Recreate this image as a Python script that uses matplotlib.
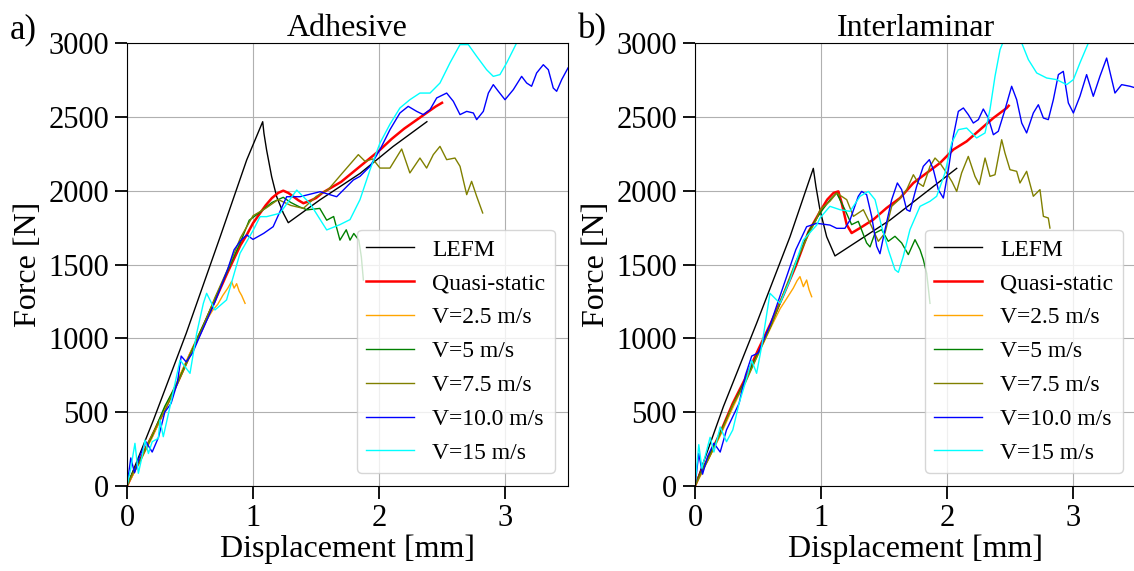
import matplotlib
matplotlib.use("Agg")
from matplotlib import pyplot as plt

plt.rcParams['font.family'] = ['Liberation Serif', 'DejaVu Serif']

# ---- a) Adhesive ----
lefm_a_x = [0, 0.21, 0.47, 0.74, 0.95, 1.077, 1.087, 1.108, 1.148, 1.188, 1.241, 1.28, 1.53, 1.85, 2.11, 2.38]
lefm_a_y = [0, 447, 1034, 1689, 2208, 2467, 2388, 2275, 2095, 1959, 1847, 1783, 1937, 2117, 2298, 2467]

qs_a_x = [0, 0.05, 0.1, 0.15, 0.2, 0.3, 0.4, 0.5, 0.6, 0.7, 0.8, 0.9, 0.95, 1.0, 1.05, 1.1, 1.15, 1.2,
          1.24, 1.28, 1.32, 1.36, 1.4, 1.45, 1.5, 1.55, 1.6, 1.65, 1.7, 1.8, 1.9, 2.0, 2.1, 2.2, 2.3,
          2.4, 2.45, 2.5]
qs_a_y = [0, 90, 170, 260, 340, 520, 700, 890, 1070, 1260, 1450, 1630, 1700, 1780, 1840, 1900, 1950, 1985,
          2000, 1985, 1960, 1935, 1915, 1930, 1950, 1985, 2010, 2035, 2060, 2130, 2200, 2270, 2350, 2420, 2480,
          2540, 2570, 2595]

v25_a_x = [0, 0.05, 0.1, 0.2, 0.3, 0.4, 0.5, 0.6, 0.68, 0.72, 0.76, 0.8, 0.83, 0.85, 0.87, 0.89, 0.91, 0.937]
v25_a_y = [0, 80, 160, 330, 520, 710, 900, 1080, 1190, 1230, 1290, 1340, 1385, 1340, 1370, 1320, 1290, 1237]

v5_a_x = [0, 0.05, 0.1, 0.2, 0.3, 0.4, 0.5, 0.6, 0.7, 0.8, 0.9, 0.97, 1.05, 1.15, 1.24, 1.3, 1.37, 1.43,
          1.53, 1.585, 1.64, 1.69, 1.74, 1.77, 1.8, 1.84, 1.86, 1.876]
v5_a_y = [0, 100, 170, 340, 540, 700, 890, 1080, 1270, 1460, 1650, 1800, 1850, 1920, 1955, 1920, 1890, 1870,
          1880, 1800, 1825, 1665, 1735, 1665, 1710, 1665, 1550, 1395]

v75_a_x = [0, 0.05, 0.1, 0.2, 0.3, 0.4, 0.5, 0.6, 0.7, 0.8, 0.9, 1.0, 1.1, 1.2, 1.3, 1.4, 1.5, 1.6, 1.7,
           1.836, 1.889, 1.95, 2.008, 2.087, 2.18, 2.245, 2.325, 2.378, 2.431, 2.484, 2.537, 2.603, 2.643,
           2.696, 2.735, 2.775, 2.823]
v75_a_y = [0, 90, 160, 350, 510, 690, 880, 1070, 1280, 1470, 1680, 1830, 1880, 1940, 1900, 1880, 1960, 2010,
           2110, 2244, 2199, 2215, 2153, 2153, 2282, 2120, 2221, 2153, 2244, 2300, 2210, 2221, 2165,
           1973, 2063, 1962, 1849]

v10_a_x = [0, 0.03, 0.06, 0.1, 0.15, 0.2, 0.25, 0.3, 0.35, 0.4, 0.43, 0.47, 0.52, 0.57, 0.7, 0.8, 0.85,
           0.9, 0.95, 1.0, 1.085, 1.16, 1.267, 1.373, 1.532, 1.664, 1.796, 1.849, 1.929, 2.008, 2.087, 2.166,
           2.232, 2.299, 2.352, 2.405, 2.458, 2.537, 2.59, 2.643, 2.696, 2.749, 2.775, 2.828, 2.868, 2.907,
           2.947, 3.0, 3.066, 3.132, 3.172, 3.211, 3.251, 3.304, 3.344, 3.383, 3.41, 3.45, 3.5]
v10_a_y = [0, 190, 90, 200, 300, 230, 330, 500, 560, 700, 880, 840, 900, 1000, 1250, 1470, 1600,
           1660, 1700, 1670, 1711, 1756, 1959, 1959, 1993, 1959, 2072, 2097, 2165, 2278, 2413, 2526,
           2571, 2537, 2515, 2549, 2628, 2661, 2605, 2515, 2537, 2526, 2481, 2537, 2661, 2718,
           2673, 2616, 2684, 2774, 2729, 2707, 2797, 2853, 2819, 2695, 2673, 2752, 2831]

v15_a_x = [0, 0.03, 0.063, 0.09, 0.12, 0.143, 0.17, 0.2, 0.249, 0.262, 0.288, 0.341, 0.421, 0.5, 0.553,
           0.606, 0.632, 0.698, 0.79, 0.897, 1.003, 1.056, 1.108, 1.214, 1.347, 1.452, 1.585, 1.69, 1.77,
           1.849, 1.929, 2.008, 2.087, 2.166, 2.245, 2.325, 2.405, 2.484, 2.563, 2.643, 2.709, 2.775, 2.854,
           2.907, 2.96, 3.013, 3.066, 3.092, 3.15]
v15_a_y = [0, 120, 289, 86, 200, 311, 220, 300, 323, 447, 334, 537, 853, 763, 1034,
           1237, 1305, 1192, 1260, 1576, 1734, 1824, 1824, 1847, 2004, 1914, 1734, 1770, 1804,
           1939, 2142, 2323, 2450, 2560, 2616, 2661, 2661, 2729, 2865, 2989, 2989, 2910, 2819,
           2774, 2786, 2865, 2955, 3000, 3150]

# ---- b) Interlaminar ----
lefm_b_x = [0, 0.225, 0.489, 0.754, 0.939, 0.96, 0.992, 1.045, 1.111, 1.548, 2.077]
lefm_b_y = [0, 537, 1102, 1688, 2151, 2027, 1869, 1688, 1558, 1801, 2151]

qs_b_x = [0, 0.05, 0.1, 0.2, 0.3, 0.4, 0.5, 0.6, 0.7, 0.8, 0.9, 1.0, 1.05, 1.1, 1.138, 1.164, 1.204, 1.243,
          1.31, 1.415, 1.521, 1.627, 1.733, 1.839, 1.944, 2.05, 2.156, 2.262, 2.368, 2.474, 2.49]
qs_b_y = [0, 100, 180, 360, 560, 730, 920, 1100, 1290, 1490, 1720, 1870, 1940, 1985, 1995, 1917, 1770, 1713,
          1747, 1804, 1883, 1950, 2052, 2120, 2187, 2278, 2334, 2413, 2492, 2560, 2575]

v25_b_x = [0, 0.05, 0.1, 0.2, 0.3, 0.4, 0.5, 0.6, 0.675, 0.728, 0.78, 0.81, 0.833, 0.86, 0.886, 0.905, 0.926]
v25_b_y = [0, 80, 170, 340, 530, 710, 890, 1070, 1200, 1270, 1340, 1390, 1418, 1350, 1395, 1330, 1282]

v5_b_x = [0, 0.05, 0.1, 0.2, 0.3, 0.4, 0.5, 0.6, 0.7, 0.8, 0.9, 0.97, 1.02, 1.071, 1.124, 1.19, 1.243,
          1.296, 1.362, 1.389, 1.429, 1.481, 1.534, 1.587, 1.64, 1.693, 1.746, 1.786, 1.812, 1.839, 1.865]
v5_b_y = [0, 100, 180, 360, 550, 720, 900, 1080, 1290, 1500, 1720, 1820, 1880, 1937, 1984, 1871, 1770,
          1792, 1646, 1619, 1713, 1736, 1657, 1691, 1646, 1567, 1668, 1600, 1533, 1440, 1237]

v75_b_x = [0, 0.05, 0.1, 0.2, 0.3, 0.4, 0.5, 0.6, 0.7, 0.8, 0.9, 0.96, 0.992, 1.071, 1.124, 1.204, 1.257,
           1.336, 1.40, 1.455, 1.508, 1.561, 1.62, 1.68, 1.733, 1.772, 1.812, 1.865, 1.905, 1.944, 1.997,
           2.04, 2.077, 2.116, 2.169, 2.222, 2.256, 2.302, 2.341, 2.381, 2.434, 2.46, 2.5, 2.553, 2.579,
           2.632, 2.685, 2.738, 2.765, 2.804, 2.817]
v75_b_y = [0, 90, 170, 350, 550, 700, 890, 1080, 1300, 1520, 1700, 1800, 1871, 1928, 1984, 1939, 1826,
           1871, 1760, 1657, 1713, 1894, 1940, 2007, 2108, 2052, 2029, 2165, 2221, 2187, 2120,
           2060, 1995, 2120, 2232, 2097, 2041, 2221, 2097, 2108, 2345, 2255, 2142, 2131, 2052,
           2131, 1962, 2007, 1826, 1815, 1747]

v10_b_x = [0, 0.03, 0.06, 0.1, 0.15, 0.2, 0.25, 0.3, 0.35, 0.4, 0.45, 0.5, 0.6, 0.7, 0.8, 0.886,
           0.966, 1.071, 1.124, 1.19, 1.23, 1.296, 1.323, 1.362, 1.402, 1.442, 1.468, 1.508, 1.561, 1.606,
           1.64, 1.68, 1.706, 1.759, 1.812, 1.86, 1.892, 1.931, 1.971, 2.011, 2.05, 2.09, 2.13, 2.169,
           2.209, 2.249, 2.288, 2.328, 2.368, 2.407, 2.46, 2.513, 2.553, 2.593, 2.632, 2.685, 2.725, 2.765,
           2.804, 2.844, 2.884, 2.923, 2.963, 3.003, 3.055, 3.108, 3.161, 3.214, 3.267, 3.333, 3.386, 3.452,
           3.52]
v10_b_y = [0, 220, 80, 200, 290, 230, 380, 470, 560, 750, 880, 900, 1100, 1350, 1600, 1756,
           1779, 1767, 1745, 1745, 1801, 1962, 1995, 1973, 1826, 1623, 1573, 1736, 1939, 2052,
           2007, 1871, 1860, 2029, 2165, 2210, 2142, 2007, 1950, 2142, 2368, 2537, 2560, 2515,
           2458, 2481, 2553, 2492, 2379, 2402, 2548, 2707, 2616, 2458, 2391, 2526, 2582, 2492,
           2481, 2616, 2786, 2808, 2594, 2526, 2639, 2786, 2639, 2775, 2898, 2661, 2718, 2707,
           2690]

v15_b_x = [0, 0.03, 0.055, 0.08, 0.12, 0.15, 0.2, 0.25, 0.3, 0.35, 0.4, 0.45, 0.489, 0.53, 0.595, 0.675,
           0.754, 0.86, 0.966, 0.992, 1.071, 1.151, 1.23, 1.31, 1.376, 1.429, 1.481, 1.534, 1.587, 1.614,
           1.653, 1.706, 1.786, 1.865, 1.918, 1.984, 2.037, 2.09, 2.156, 2.235, 2.302, 2.341, 2.381, 2.421,
           2.447, 2.52, 2.593, 2.646, 2.712, 2.791, 2.87, 2.95, 3.003, 3.055, 3.122, 3.2]
v15_b_y = [0, 280, 120, 200, 330, 230, 400, 300, 380, 560, 700, 850, 763, 950, 1305, 1237,
           1395, 1666, 1767, 1815, 1894, 1871, 1860, 1962, 1995, 1939, 1758, 1600, 1465, 1447,
           1555, 1736, 1894, 1928, 1962, 2120, 2323, 2413, 2424, 2357, 2391, 2549, 2774, 2955,
           3010, 3080, 3000, 2887, 2797, 2763, 2752, 2718, 2752, 2865, 3000, 3150]

labels = ["LEFM", "Quasi-static", "V=2.5 m/s", "V=5 m/s", "V=7.5 m/s", "V=10.0 m/s", "V=15 m/s"]
colors = ["black", "red", "orange", "green", "olive", "blue", "cyan"]

panels = [
    ("Adhesive", "a)", [(lefm_a_x, lefm_a_y), (qs_a_x, qs_a_y), (v25_a_x, v25_a_y), (v5_a_x, v5_a_y),
                        (v75_a_x, v75_a_y), (v10_a_x, v10_a_y), (v15_a_x, v15_a_y)]),
    ("Interlaminar", "b)", [(lefm_b_x, lefm_b_y), (qs_b_x, qs_b_y), (v25_b_x, v25_b_y), (v5_b_x, v5_b_y),
                            (v75_b_x, v75_b_y), (v10_b_x, v10_b_y), (v15_b_x, v15_b_y)]),
]

fig = plt.figure(figsize=(11.34, 5.71), dpi=100)
W, H = 1134, 571
lefts = [127, 695]

for (title, tag, series), left in zip(panels, lefts):
    ax = fig.add_axes([left / W, 85 / H, 441 / W, 443 / H])
    for (x, y), lab, col in zip(series, labels, colors):
        lw = 1.8 if col == "red" else 1.0
        ax.plot(x, y, color=col, lw=lw, label=lab)
    ax.set_xlim(0, 3.5)
    ax.set_ylim(0, 3000)
    ax.set_xticks([0, 1, 2, 3])
    ax.set_yticks(range(0, 3001, 500))
    ax.grid(True, color="#b0b0b0", lw=0.8)
    ax.tick_params(labelsize=22, length=9, width=1.3, pad=4)
    ax.set_xlabel("Displacement [mm]", fontsize=23, labelpad=1)
    ax.set_ylabel("Force [N]", fontsize=23, labelpad=4)
    ax.set_title(title, fontsize=23, pad=5)
    ax.legend(loc="lower right", fontsize=17, framealpha=0.8, labelspacing=0.52,
              borderaxespad=0.55, handlelength=2.0)
    fig.text((left - 117) / W, 0.948, tag, fontsize=25, ha="left", va="center")

fig.savefig("out.png", dpi=100)
